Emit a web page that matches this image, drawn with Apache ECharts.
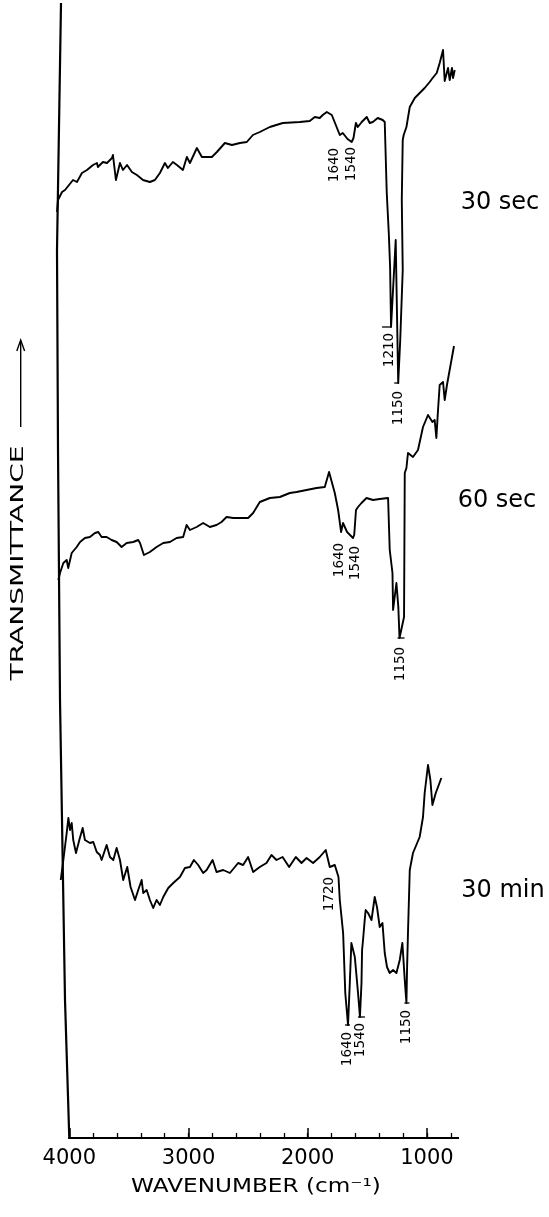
<!DOCTYPE html>
<html>
<head>
<meta charset="utf-8">
<script src="https://cdn.jsdelivr.net/npm/echarts@6/dist/echarts.min.js"></script>
<style>
  html, body { margin: 0; padding: 0; background: #fff; }
  #chart { width: 549px; height: 1217px; }
</style>
</head>
<body>
<div id="chart"></div>
<script>
// Wavenumber scale (cm-1)
const majorTicks = [4000, 3000, 2000, 1000];
const minorTicks = [4000, 3800, 3600, 3400, 3200, 3000, 2800, 2600, 2400, 2200, 2000,
                    1800, 1600, 1400, 1200, 1000, 800];

const traceNames = ['30 sec', '60 sec', '30 min'];

// Registration of each recorded trace on the chart paper, cm-1 relative to the printed scale
const traceShift = [91, 80, 22];

// Spectra: [wavenumber cm-1, transmittance (arbitrary units, traces stacked)]
const spectrum30s = [
  [4012,92.6],[4004,93.8],[3970,94.6],[3945,94.8],[3878,95.8],[3845,95.6],[3803,96.5],[3761,96.8],
  [3710,97.3],[3677,97.5],[3669,97.1],[3627,97.6],[3593,97.5],[3551,98.0],[3543,98.3],[3518,95.8],
  [3484,97.5],[3459,96.8],[3425,97.3],[3384,96.6],[3342,96.3],[3291,95.8],[3233,95.6],[3191,95.8],
  [3149,96.5],[3107,97.5],[3082,97.0],[3040,97.6],[3006,97.3],[2956,96.8],[2923,98.1],[2897,97.5],
  [2839,99.0],[2797,98.1],[2755,98.1],[2713,98.1],[2671,98.6],[2604,99.5],[2545,99.3],[2478,99.5],
  [2420,99.6],[2369,100.3],[2311,100.6],[2227,101.1],[2118,101.5],[1975,101.6],[1892,101.7],
  [1850,102.1],[1808,102.0],[1783,102.3],[1749,102.6],[1741,102.8],[1707,102.3],[1699,102.3],
  [1640,100.3],[1615,100.5],[1575,99.9],[1540,99.6],[1525,100.0],[1505,101.5],[1489,101.1],
  [1456,101.6],[1414,102.1],[1389,101.5],[1363,101.6],[1322,102.0],[1280,101.8],[1263,101.6],
  [1255,101.8],[1246,94.5],[1229,90.5],[1218,87.1],[1210,81.1],[1171,89.8],[1150,75.5],[1133,79.8],
  [1112,86.8],[1120,93.8],[1112,99.8],[1104,100.3],[1081,101.1],[1053,103.1],[1011,104.0],[970,104.5],
  [928,105.0],[886,105.6],[861,106.0],[827,106.5],[802,107.5],[774,108.8],[760,105.7],[732,107.0],
  [718,105.8],[699,107.0],[690,106.0],[676,106.8]
];

const spectrum60s = [
  [4012,55.8],[3998,56.5],[3970,57.5],[3942,57.8],[3929,57.0],[3900,58.5],[3858,59.1],[3830,59.6],
  [3789,60.0],[3747,60.1],[3705,60.5],[3677,60.6],[3649,60.1],[3607,60.1],[3565,59.8],[3523,59.6],
  [3481,59.1],[3439,59.5],[3384,59.6],[3342,59.8],[3327,59.5],[3294,58.3],[3244,58.6],[3188,59.1],
  [3132,59.5],[3076,59.6],[3020,60.0],[2965,60.1],[2936,61.3],[2908,60.8],[2852,61.1],[2797,61.5],
  [2741,61.1],[2685,61.3],[2643,61.6],[2601,62.1],[2545,62.0],[2489,62.0],[2420,62.0],[2378,62.5],
  [2322,63.6],[2238,64.0],[2154,64.1],[2070,64.5],[2014,64.6],[1930,64.8],[1846,65.0],[1777,65.1],
  [1741,66.6],[1693,64.5],[1665,62.8],[1640,60.6],[1624,61.5],[1590,60.6],[1540,60.0],[1530,60.3],
  [1515,62.8],[1498,63.1],[1469,63.5],[1427,64.0],[1372,63.8],[1316,63.9],[1246,64.0],[1232,58.8],
  [1209,56.5],[1204,52.8],[1176,55.5],[1160,53.1],[1150,50.0],[1112,52.1],[1106,66.5],[1092,67.0],
  [1079,68.5],[1037,68.1],[995,68.8],[953,71.1],[911,72.3],[874,71.6],[855,71.8],[841,70.0],
  [827,72.8],[813,75.3],[785,75.6],[771,73.8],[752,75.3],[693,79.2]
];

const spectrum30min = [
  [4050,25.8],[4028,27.8],[4000,30.5],[3986,32.0],[3972,30.8],[3958,31.5],[3945,29.8],[3922,28.5],
  [3894,29.8],[3866,31.0],[3847,29.8],[3805,29.5],[3777,29.6],[3748,28.6],[3721,28.3],[3707,27.8],
  [3679,28.8],[3665,29.3],[3637,28.1],[3609,27.8],[3581,29.0],[3553,27.8],[3526,25.8],[3492,27.1],
  [3464,25.1],[3427,23.8],[3400,24.8],[3371,25.8],[3358,24.5],[3329,24.8],[3302,23.8],[3274,23.0],
  [3246,23.8],[3218,23.3],[3190,24.1],[3148,25.0],[3106,25.5],[3050,26.1],[3008,27.0],[2966,27.1],
  [2933,27.8],[2897,27.3],[2855,26.5],[2826,26.8],[2776,27.8],[2743,26.6],[2687,26.8],[2631,26.5],
  [2589,27.1],[2562,27.5],[2520,27.3],[2478,28.1],[2436,26.6],[2380,27.1],[2324,27.5],[2282,28.3],
  [2240,27.8],[2189,28.1],[2134,27.1],[2078,28.1],[2030,27.5],[1988,28.0],[1933,27.5],[1877,28.1],
  [1827,28.8],[1793,27.1],[1751,27.3],[1720,26.1],[1709,23.8],[1681,20.5],[1663,14.5],[1640,11.3],
  [1625,15.5],[1612,19.5],[1583,18.1],[1556,14.5],[1540,12.1],[1527,15.5],[1522,18.8],[1514,19.8],
  [1500,21.8],[1492,22.8],[1472,22.5],[1443,21.8],[1416,24.1],[1397,23.1],[1374,21.1],[1351,21.5],
  [1332,18.5],[1313,17.1],[1290,16.5],[1262,16.8],[1234,16.5],[1206,17.8],[1184,19.5],[1164,15.8],
  [1150,13.5],[1145,16.8],[1137,20.5],[1122,26.8],[1095,28.5],[1039,30.1],[1011,32.1],[997,34.5],
  [969,37.3],[949,35.8],[932,33.3],[904,34.5],[857,36.0]
];

// Assigned absorption bands (cm-1)
const peaks30s = [1640, 1540, 1210, 1150];
const peaks60s = [1640, 1540, 1150];
const peaks30min = [1720, 1640, 1540, 1150];

const traces = [spectrum30s, spectrum60s, spectrum30min];
const peakLists = [peaks30s, peaks60s, peaks30min];

// Placement of band labels (px from the band point) and the short marker under some bands
const bandLabelLayout = {
  '30 sec': { 1640: { dx: -5, dy: 30 }, 1540: { dx: 0, dy: 22 },
              1210: { dx: -2, dy: 23, tick: [-9, 0] }, 1150: { dx: 0, dy: 25, tick: [-4, 1] } },
  '60 sec': { 1640: { dx: -2, dy: 28 }, 1540: { dx: 2, dy: 25 },
              1150: { dx: 1, dy: 26, tick: [-2, 5] } },
  '30 min': { 1720: { dx: -9, dy: 17 }, 1640: { dx: -1, dy: 24, tick: [-3, 2] },
              1540: { dx: 1, dy: 23, tick: [-2, 5] }, 1150: { dx: 0, dy: 24, tick: [-2, 3] } }
};

const FONT = 'DejaVu Sans';
const INK = '#000';

// Plot area starts a little left of the 4000 mark so the traces can run up to the paper edge
const scaleMin = 731, scaleMax = 4162;
const GRID = { left: 50, right: 90, top: 5, bottom: 79 };

const xAxes = [
  {
    type: 'value', gridIndex: 0, position: 'bottom', inverse: true,
    min: scaleMin, max: scaleMax,
    axisLine: { show: false },
    axisTick: { show: true, inside: true, length: 10, customValues: majorTicks,
                lineStyle: { color: INK, width: 1.5 } },
    axisLabel: { show: true, customValues: majorTicks, color: INK, fontSize: 21,
                 fontFamily: FONT, margin: 10, formatter: v => String(v) },
    splitLine: { show: false }
  },
  {
    type: 'value', gridIndex: 0, position: 'bottom', inverse: true,
    min: scaleMin, max: scaleMax,
    axisLine: { show: false },
    axisTick: { show: true, inside: true, length: 5, customValues: minorTicks,
                lineStyle: { color: INK, width: 1.3 } },
    axisLabel: { show: false },
    splitLine: { show: false }
  }
].concat(traceShift.map(s => ({
  type: 'value', gridIndex: 0, position: 'bottom', inverse: true, show: false,
  min: scaleMin - s, max: scaleMax - s
})));

const lineSeries = traces.map((data, i) => ({
  name: traceNames[i],
  type: 'line',
  xAxisIndex: 2 + i,
  yAxisIndex: 0,
  data: data,
  showSymbol: false,
  symbol: 'none',
  silent: true,
  lineStyle: { color: INK, width: 1.9, join: 'round' },
  z: 3
}));

const bandSeries = traces.map((data, i) => {
  const name = traceNames[i];
  return {
    type: 'custom',
    xAxisIndex: 2 + i,
    yAxisIndex: 0,
    clip: false,
    silent: true,
    data: peakLists[i].map(p => [p, data.find(d => d[0] === p)[1]]),
    renderItem: function (params, api) {
      const band = api.value(0);
      const pt = api.coord([band, api.value(1)]);
      const lay = bandLabelLayout[name][band];
      const children = [{
        type: 'text',
        x: pt[0] + lay.dx,
        y: pt[1] + lay.dy,
        rotation: Math.PI / 2,
        style: { text: String(band), fontSize: 13.5, fontFamily: FONT, fill: INK,
                 align: 'center', verticalAlign: 'middle' }
      }];
      if (lay.tick) {
        children.push({
          type: 'line',
          shape: { x1: pt[0] + lay.tick[0], y1: pt[1], x2: pt[0] + lay.tick[1], y2: pt[1] },
          style: { stroke: INK, lineWidth: 1.3 }
        });
      }
      return { type: 'group', children: children };
    }
  };
});

const chart = echarts.init(document.getElementById('chart'), null, { renderer: 'canvas' });

// pixel position of a wavenumber on the printed scale (for the paper frame)
const W = 549, H = 1217;
const plotW = W - GRID.left - GRID.right;
const xOf = w => GRID.left + (scaleMax - w) / (scaleMax - scaleMin) * plotW;
const baseY = H - GRID.bottom;

chart.setOption({
  animation: false,
  backgroundColor: '#fff',
  grid: GRID,
  xAxis: xAxes,
  yAxis: { type: 'value', min: 0, max: 113.3, show: false },
  series: lineSeries.concat(bandSeries),
  graphic: [
    // bottom edge of the chart paper, from the 4000 mark to the end of the scale
    { type: 'line', silent: true,
      shape: { x1: xOf(4000) - 1, y1: baseY, x2: xOf(scaleMin), y2: baseY },
      style: { stroke: INK, lineWidth: 2 } },
    // left edge of the chart paper
    { type: 'polyline', silent: true,
      shape: { points: [[61, 3], [57, 250], [58, 450], [60, 700], [65, 1000], [xOf(4000), baseY + 1]] },
      style: { stroke: INK, lineWidth: 2.2, fill: null } },
    // ordinate title with arrow
    { type: 'text', x: 19, y: 563, rotation: Math.PI / 2, scaleX: 1.65, silent: true,
      style: { text: 'TRANSMITTANCE', fontSize: 17, fontFamily: FONT, fill: INK,
               align: 'center', verticalAlign: 'middle' } },
    { type: 'line', silent: true, shape: { x1: 20.7, y1: 427, x2: 20.7, y2: 341 },
      style: { stroke: INK, lineWidth: 1.4 } },
    { type: 'polyline', silent: true, shape: { points: [[16.8, 351], [20.7, 340], [24.6, 351]] },
      style: { stroke: INK, lineWidth: 1.4, fill: null } },
    // abscissa title
    { type: 'text', x: 256, y: 1187, scaleX: 1.22, silent: true,
      style: { text: 'WAVENUMBER (cm\u207B\u00B9)', fontSize: 19, fontFamily: FONT, fill: INK,
               align: 'center', verticalAlign: 'middle' } },
    // trace names
    { type: 'text', x: 500, y: 203, silent: true,
      style: { text: traceNames[0], fontSize: 24, fontFamily: FONT, fill: INK,
               align: 'center', verticalAlign: 'middle' } },
    { type: 'text', x: 497, y: 501, silent: true,
      style: { text: traceNames[1], fontSize: 24, fontFamily: FONT, fill: INK,
               align: 'center', verticalAlign: 'middle' } },
    { type: 'text', x: 503, y: 891, silent: true,
      style: { text: traceNames[2], fontSize: 24, fontFamily: FONT, fill: INK,
               align: 'center', verticalAlign: 'middle' } }
  ]
});
</script>
</body>
</html>
